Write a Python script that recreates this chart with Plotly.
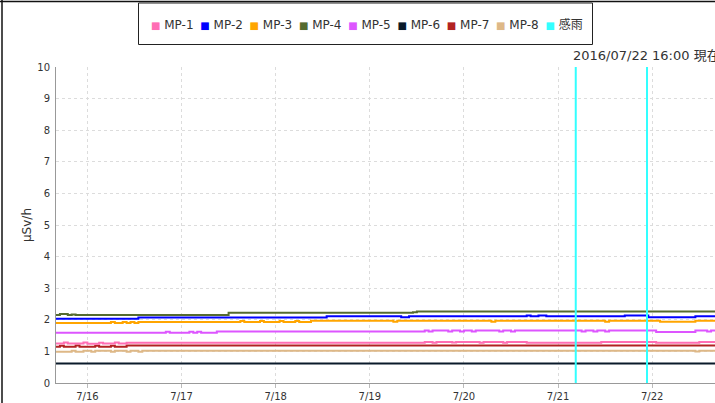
import plotly.graph_objects as go

# ---------------- data (step breakpoints) ----------------
D = "2016-07-"
mp1_t = ["15 16:00", "15 18:00", "15 19:00", "15 23:00", "16 00:00", "16 03:00", "16 04:00", "16 07:00",
         "16 08:00", "16 10:00", "19 14:00", "19 16:00", "19 17:00", "19 21:00", "19 22:00", "20 04:00",
         "20 05:00", "20 10:00", "20 11:00", "20 16:00", "21 11:00", "22 01:00", "22 12:00", "22 16:00"]
mp1_v = [1.25, 1.28, 1.25, 1.28, 1.24, 1.27, 1.25, 1.28,
         1.25, 1.27, 1.30, 1.27, 1.30, 1.28, 1.30, 1.27,
         1.30, 1.27, 1.30, 1.27, 1.30, 1.27, 1.30, 1.30]

mp2_t = ["15 16:00", "16 13:00", "18 13:00", "19 08:00", "19 10:00", "20 16:00", "20 17:00", "20 19:00",
         "20 21:00", "21 17:00", "21 23:00", "22 11:00", "22 16:00"]
mp2_v = [2.03, 2.07, 2.11, 2.08, 2.11, 2.14, 2.11, 2.14,
         2.11, 2.14, 2.08, 2.11, 2.11]

mp3_t = ["15 16:00", "16 06:00", "16 07:00", "16 09:00", "16 10:00", "16 11:00", "16 12:00", "16 13:00",
         "17 15:00", "17 16:00", "17 20:00", "17 21:00", "18 01:00", "18 02:00", "18 05:00", "18 06:00",
         "18 09:00", "19 06:00", "19 07:00", "20 07:00", "20 08:00", "21 12:00", "21 13:00", "22 02:00",
         "22 11:00", "22 16:00"]
mp3_v = [1.90, 1.93, 1.90, 1.93, 1.90, 1.93, 1.90, 1.93,
         1.96, 1.93, 1.96, 1.93, 1.96, 1.93, 1.96, 1.93,
         1.97, 1.94, 1.97, 1.94, 1.97, 1.94, 1.97, 1.94,
         1.97, 1.97]

mp4_t = ["15 16:00", "15 17:00", "15 19:00", "15 20:00", "15 21:00", "17 12:00", "19 11:00", "19 12:00",
         "22 16:00"]
mp4_v = [2.15, 2.18, 2.15, 2.17, 2.15, 2.22, 2.24, 2.26,
         2.26]

mp5_t = ["15 16:00", "16 20:00", "16 21:00", "17 02:00", "17 03:00", "17 04:00", "17 05:00", "17 09:00",
         "19 14:00", "19 15:00", "19 16:00", "19 20:00", "19 21:00", "19 23:00", "20 00:00", "20 02:00",
         "20 03:00", "20 09:00", "20 10:00", "20 12:00", "20 13:00", "21 06:00", "21 07:00", "21 09:00",
         "21 10:00", "21 12:00", "21 13:00", "22 01:00", "22 11:00", "22 14:00", "22 15:00", "22 16:00"]
mp5_v = [1.59, 1.62, 1.59, 1.62, 1.59, 1.62, 1.59, 1.63,
         1.66, 1.63, 1.66, 1.63, 1.66, 1.63, 1.66, 1.63,
         1.66, 1.63, 1.66, 1.63, 1.66, 1.63, 1.66, 1.63,
         1.66, 1.63, 1.66, 1.61, 1.66, 1.63, 1.66, 1.66]

mp6_t = ["15 16:00", "22 16:00"]
mp6_v = [0.62, 0.62]

mp7_t = ["15 16:00", "15 17:00", "15 18:00", "15 21:00", "15 22:00", "16 02:00", "16 03:00", "16 06:00",
         "16 07:00", "16 10:00", "22 16:00"]
mp7_v = [1.15, 1.18, 1.15, 1.19, 1.15, 1.18, 1.15, 1.18,
         1.15, 1.19, 1.19]

mp8_t = ["15 16:00", "15 20:00", "15 21:00", "15 23:00", "16 01:00", "16 02:00", "16 06:00", "16 07:00",
         "16 10:00", "16 11:00", "16 13:00", "16 14:00", "22 11:00", "22 12:00", "22 16:00"]
mp8_v = [0.99, 1.02, 0.99, 1.02, 0.99, 1.02, 0.99, 1.02,
         0.99, 1.02, 0.99, 1.02, 1.00, 1.02, 1.02]

rain_t = ["21 04:30", "21 22:40"]

tick_vals = ["16 00:00", "17 00:00", "18 00:00", "19 00:00", "20 00:00", "21 00:00", "22 00:00"]
tick_text = ["7/16", "7/17", "7/18", "7/19", "7/20", "7/21", "7/22"]
y_ticks = list(range(0, 11))

names = ["MP-1", "MP-2", "MP-3", "MP-4", "MP-5", "MP-6", "MP-7", "MP-8"]
colors = ["#ff6eb4", "#0000ff", "#ffa500", "#556b2f", "#dd55ff", "#0a1a2a", "#b22222", "#deb887"]
rain_name = "感雨"
rain_color = "#33ffff"
stamp = "2016/07/22 16:00 現在"
x_range = ["15 16:00", "22 16:00"]

# ---------------- figure ----------------
W, H = 715, 403
L, R, T, B = 56, 0, 67, 20
pw, ph = W - L - R, H - T - B

def px(x):
    return (x - L) / pw

def py(y):
    return (H - B - y) / ph

FONT = "DejaVu Sans, Noto Sans CJK JP, sans-serif"
fig = go.Figure()

series = [(mp1_t, mp1_v), (mp2_t, mp2_v), (mp3_t, mp3_v), (mp4_t, mp4_v),
          (mp5_t, mp5_v), (mp6_t, mp6_v), (mp7_t, mp7_v), (mp8_t, mp8_v)]
order = [5, 7, 6, 0, 4, 2, 1, 3]
for i in order:
    t, v = series[i]
    fig.add_trace(go.Scatter(x=[D + s for s in t], y=v, mode="lines", line_shape="hv",
                             line=dict(color=colors[i], width=2), showlegend=False, name=names[i]))

rx, ry = [], []
for s in rain_t:
    rx += [D + s, D + s, None]
    ry += [0, 10, None]
fig.add_trace(go.Scatter(x=rx, y=ry, mode="lines", line=dict(color=rain_color, width=2),
                         showlegend=False, name=rain_name))

# legend entries (square swatch + label)
entries = list(zip(names, colors)) + [(rain_name, rain_color)]
for k, (nm, c) in enumerate(entries):
    fig.add_trace(go.Scatter(x=[None], y=[None], mode="markers",
                             marker=dict(color="rgba(0,0,0,0)", size=1),
                             legendwidth=(40 if k == len(entries) - 1 else None),
                             name=f'<span style="color:{c};font-size:10px">■</span> {nm}'))

fig.update_layout(
    width=W, height=H, margin=dict(l=L, r=R, t=T, b=B, autoexpand=False),
    paper_bgcolor="white", plot_bgcolor="white",
    font=dict(family=FONT, color="#333", size=11),
    legend=dict(orientation="h", x=px(111), y=py(24), xanchor="left", yanchor="middle",
                entrywidth=4.3, entrywidthmode="pixels", borderwidth=0,
                bgcolor="rgba(0,0,0,0)", font=dict(size=12, color="#333")),
    xaxis=dict(range=[D + x_range[0], D + x_range[1]], tickvals=[D + s for s in tick_vals],
               ticktext=tick_text, showgrid=True, gridcolor="#dcdcdc", griddash="3px,3px",
               showline=True, linecolor="#999", ticks="outside", ticklen=4, tickcolor="#bbb",
               tickfont=dict(size=10, color="#333"), zeroline=False, automargin=False),
    yaxis=dict(range=[0, 10], tickvals=y_ticks, showgrid=True, gridcolor="#dcdcdc",
               griddash="3px,3px", showline=True, linecolor="#999", ticks="outside", ticklen=3,
               tickcolor="rgba(0,0,0,0)", tickfont=dict(size=10, color="#333"), zeroline=False,
               automargin=False,
               title=dict(text="μSv/h", font=dict(size=12, color="#333"), standoff=3)),
    shapes=[
        dict(type="line", xref="paper", yref="paper", x0=px(0), x1=px(W), y0=py(1.5), y1=py(1.5),
             line=dict(color="#111", width=1.5)),
        dict(type="line", xref="paper", yref="paper", x0=px(2), x1=px(2), y0=py(0), y1=py(H),
             line=dict(color="#111", width=1.5)),
        dict(type="rect", xref="paper", yref="paper", x0=px(138.5), x1=px(592.5), y0=py(44.5), y1=py(3),
             line=dict(color="#222", width=1)),
    ],
    annotations=[dict(text=stamp, xref="paper", yref="paper", x=px(571), y=py(55),
                      xanchor="left", yanchor="middle", showarrow=False,
                      font=dict(size=13, color="#333"))],
)

fig.write_html("out.html", config={"displayModeBar": False},
               post_script="document.body.style.margin='0';document.body.style.overflow='hidden';")
